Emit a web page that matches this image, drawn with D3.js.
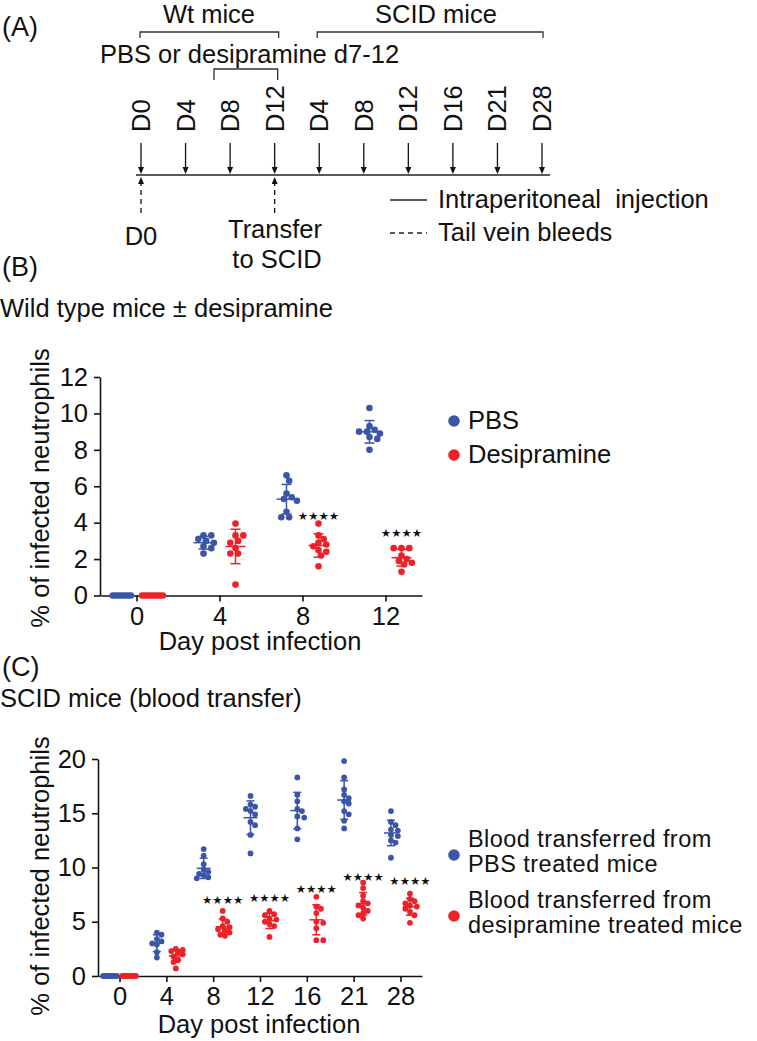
<!DOCTYPE html>
<html>
<head>
<meta charset="utf-8">
<script src="https://cdn.jsdelivr.net/npm/d3@7"></script>
<style>
  html, body { margin: 0; padding: 0; background: #fff; }
  svg { display: block; }
  text { font-family: "Liberation Sans", Arial, Helvetica, sans-serif; fill: #111; }
</style>
</head>
<body>
<svg id="chart" width="757" height="1041"></svg>
<script>
// ---------------- DATA ----------------
// Panel A timeline
const timelineLabels = ["D0", "D4", "D8", "D12", "D4", "D8", "D12", "D16", "D21", "D28"];
const bleedIndex = [0, 3];           // tail-vein bleeds at D0 and D12 (transfer)

// Panel B: wild type mice ± desipramine
const daysB = ["0", "4", "8", "12"];
const pbsB = [
  [0, 0, 0, 0, 0, 0, 0, 0],
  [3.3, 3.3, 3.1, 3.0, 2.9, 2.7, 2.6, 2.3],
  [6.6, 6.3, 5.6, 5.4, 5.3, 5.2, 4.6, 4.3, 4.3],
  [10.3, 9.3, 9.1, 9.0, 9.0, 8.9, 8.7, 8.6, 8.0]
];
const desB = [
  [0, 0, 0, 0, 0, 0, 0, 0, 0],
  [3.95, 3.3, 3.3, 3.0, 2.9, 2.6, 2.3, 2.3, 0.6],
  [3.95, 3.3, 3.1, 2.9, 2.8, 2.7, 2.5, 2.4, 2.2, 1.6],
  [2.6, 2.6, 2.6, 2.2, 2.0, 1.9, 1.8, 1.7, 1.3]
];
const sigB = [null, null, 4.4, 3.5];      // "****" marks (value level)
const yTicksB = [0, 2, 4, 6, 8, 10, 12];

// Panel C: SCID mice (blood transfer)
const daysC = ["0", "4", "8", "12", "16", "21", "28"];
const pbsC = [
  [0, 0, 0, 0, 0, 0, 0, 0],
  [4.0, 3.8, 3.4, 3.2, 3.0, 2.9, 2.2, 1.7],
  [11.7, 11.1, 10.3, 9.8, 9.6, 9.4, 9.3, 9.1, 9.0],
  [16.6, 15.8, 15.6, 15.4, 15.2, 14.9, 14.2, 13.9, 13.0, 11.3],
  [18.3, 16.7, 16.1, 15.4, 15.2, 14.7, 14.6, 13.6, 12.6],
  [19.8, 18.3, 17.2, 16.7, 16.4, 16.1, 15.9, 15.2, 14.9, 14.3, 13.6],
  [15.2, 14.2, 13.9, 13.5, 13.4, 13.0, 12.9, 12.5, 12.3, 10.9]
];
const desC = [
  [0, 0, 0, 0, 0, 0, 0, 0, 0],
  [2.5, 2.4, 2.3, 2.2, 2.0, 1.8, 1.5, 1.3, 0.7],
  [6.0, 5.3, 5.0, 4.6, 4.5, 4.3, 4.2, 4.0, 3.8, 3.7],
  [6.0, 5.7, 5.6, 5.3, 5.2, 5.0, 4.8, 4.6, 3.6],
  [7.3, 6.4, 6.2, 5.8, 5.0, 4.9, 4.4, 3.3, 3.3],
  [8.6, 8.1, 7.4, 6.9, 6.7, 6.5, 6.3, 6.0, 5.8, 5.6, 5.3],
  [7.6, 7.1, 6.9, 6.7, 6.5, 6.4, 6.2, 5.9, 5.6, 4.9]
];
const sigC = [null, null, 7.06, 7.3, 8.08, 9.2, 8.84];
const yTicksC = [0, 5, 10, 15, 20];

const BLUE = "#3b56a8";
const RED = "#ec2228";
const FS = 25.5;

// ---------------- DRAW ----------------
const svg = d3.select("#chart");

function txt(g, x, y, s, opts = {}) {
  const t = g.append("text").attr("x", x).attr("y", y).text(s)
    .style("font-size", (opts.size || FS) + "px");
  if (opts.anchor) t.attr("text-anchor", opts.anchor);
  return t;
}

// ===== Panel A =====
const A = svg.append("g");
txt(A, 2, 36, "(A)", { size: 27 });
txt(A, 209, 23, "Wt mice", { anchor: "middle" });
txt(A, 436, 23, "SCID mice", { anchor: "middle" });
txt(A, 100, 63, "PBS or desipramine d7-12");

const tlX = d3.scalePoint().domain(d3.range(timelineLabels.length)).range([141, 542]);
const lineY = 175;

function bracket(x1, x2, y, h) {
  A.append("path")
    .attr("d", `M${x1},${y + h}V${y}H${x2}V${y + h}`)
    .attr("fill", "none").attr("stroke", "#333").attr("stroke-width", 1.3);
}
bracket(tlX(0) - 1, tlX(3) + 4, 32, 6);
bracket(tlX(4) - 2, tlX(9) + 1, 32, 6);
bracket(214, tlX(3) + 3, 69, 11);

A.append("line").attr("x1", 136).attr("x2", 550).attr("y1", lineY).attr("y2", lineY)
  .attr("stroke", "#222").attr("stroke-width", 1.5);

timelineLabels.forEach((lab, i) => {
  const x = tlX(i);
  A.append("line").attr("x1", x).attr("x2", x).attr("y1", 143).attr("y2", lineY - 6)
    .attr("stroke", "#111").attr("stroke-width", 1.3);
  A.append("path").attr("d", `M${x - 3},${lineY - 8}L${x + 3},${lineY - 8}L${x},${lineY - 1}Z`)
    .attr("fill", "#111");
  A.append("text").attr("transform", `translate(${x + 9},132) rotate(-90)`)
    .style("font-size", FS + "px").text(lab);
});

bleedIndex.forEach(i => {
  const x = tlX(i);
  A.append("line").attr("x1", x).attr("x2", x).attr("y1", 213).attr("y2", lineY + 7)
    .attr("stroke", "#111").attr("stroke-width", 1.3).attr("stroke-dasharray", "5,4");
  A.append("path").attr("d", `M${x - 3},${lineY + 9}L${x + 3},${lineY + 9}L${x},${lineY + 2}Z`)
    .attr("fill", "#111");
});
txt(A, tlX(0), 245, "D0", { anchor: "middle" });
txt(A, 275, 238, "Transfer", { anchor: "middle" });
txt(A, 277, 268, "to SCID", { anchor: "middle" });

A.append("line").attr("x1", 390).attr("x2", 427).attr("y1", 200).attr("y2", 200)
  .attr("stroke", "#222").attr("stroke-width", 1.3);
txt(A, 438, 208, "Intraperitoneal  injection").style("white-space", "pre");
A.append("line").attr("x1", 390).attr("x2", 427).attr("y1", 233).attr("y2", 233)
  .attr("stroke", "#222").attr("stroke-width", 1.3).attr("stroke-dasharray", "5,4");
txt(A, 438, 241, "Tail vein bleeds");

// ===== scatter panel helper =====
function swarm(values, y, r, step, maxK) {
  const pts = values.map((v, i) => ({ v, py: y(v), dx: 0 }));
  const order = pts.slice().sort((a, b) => a.py - b.py);
  const placed = [];
  const cands = [0];
  for (let k = 1; k <= maxK; k++) { cands.push(k, -k); }
  const minD = 2 * r * 0.85;
  order.forEach(p => {
    let best = null, bestScore = -1;
    for (const k of cands) {
      const dx = k * step;
      let md = Infinity;
      placed.forEach(q => {
        const d = Math.hypot(q.dx - dx, q.py - p.py);
        if (d < md) md = d;
      });
      if (md >= minD) { best = dx; break; }
      if (md > bestScore) { bestScore = md; best = dx; }
    }
    p.dx = best;
    placed.push(p);
  });
  return pts;
}

function scatterPanel(cfg) {
  const g = svg.append("g");
  const x = d3.scalePoint().domain(cfg.days).range([cfg.x0, cfg.x1]).padding(cfg.pad);
  const y = d3.scaleLinear().domain([0, cfg.yMax]).range([cfg.yBottom, cfg.yTop]);

  const ax = g.append("g").attr("transform", `translate(0,${cfg.yBottom})`)
    .call(d3.axisBottom(x).tickSize(6).tickSizeOuter(0).tickPadding(5));
  const ay = g.append("g").attr("transform", `translate(${cfg.x0},0)`)
    .call(d3.axisLeft(y).tickValues(cfg.yTicks).tickSize(6).tickSizeOuter(0).tickPadding(6));
  [ax, ay].forEach(a => {
    a.select(".domain").attr("stroke", "#111").attr("stroke-width", 1.6);
    a.selectAll(".tick line").attr("stroke", "#111").attr("stroke-width", 1.6);
    a.selectAll(".tick text").style("font-size", FS + "px")
      .style("font-family", '"Liberation Sans", Arial, Helvetica, sans-serif').attr("fill", "#111");
  });

  txt(g, (cfg.x0 + cfg.x1) / 2 - 1, cfg.xLabelY, "Day post infection", { anchor: "middle" });
  g.append("text").attr("transform", `translate(49,${cfg.yLabelC}) rotate(-90)`)
    .attr("text-anchor", "middle").style("font-size", FS + "px")
    .text("% of infected neutrophils");

  const series = [
    { data: cfg.pbs, color: BLUE, off: -cfg.off },
    { data: cfg.des, color: RED, off: cfg.off }
  ];
  series.forEach(s => {
    s.data.forEach((vals, gi) => {
      const cx = x(cfg.days[gi]) + s.off;
      const pts = swarm(vals, y, cfg.r, cfg.step, cfg.maxK);
      g.append("g").selectAll("circle").data(pts).join("circle")
        .attr("cx", d => cx + d.dx).attr("cy", d => d.py).attr("r", cfg.r)
        .attr("fill", s.color);
      const m = d3.mean(vals), sd = d3.deviation(vals) || 0;
      const eg = g.append("g").attr("stroke", s.color).attr("stroke-width", 1.5).attr("fill", "none");
      eg.append("line").attr("x1", cx - cfg.meanW).attr("x2", cx + cfg.meanW)
        .attr("y1", y(m)).attr("y2", y(m));
      eg.append("line").attr("x1", cx).attr("x2", cx).attr("y1", y(m + sd)).attr("y2", y(m - sd));
      [m + sd, m - sd].forEach(v => {
        eg.append("line").attr("x1", cx - cfg.capW).attr("x2", cx + cfg.capW)
          .attr("y1", y(v)).attr("y2", y(v));
      });
    });
  });

  cfg.sig.forEach((v, gi) => {
    if (v == null) return;
    g.append("text").attr("x", x(cfg.days[gi]) + cfg.off).attr("y", y(v) + 5)
      .attr("text-anchor", "middle")
      .style("font-family", '"DejaVu Sans", sans-serif').style("font-size", "11.5px")
      .text("★★★★");
  });

  cfg.legend.forEach(L => {
    g.append("circle").attr("cx", 454).attr("cy", L.cy).attr("r", 5.8).attr("fill", L.color);
    L.lines.forEach((s, i) => {
      g.append("text").attr("x", 468).attr("y", L.y + i * cfg.legendGap)
        .style("font-size", cfg.legendFS + "px").style("letter-spacing", cfg.legendLS + "px")
        .text(s);
    });
  });
}

// ===== Panel B =====
txt(svg, 2, 276, "(B)", { size: 27 });
txt(svg, 0, 317, "Wild type mice \u00b1 desipramine");
scatterPanel({
  days: daysB, pbs: pbsB, des: desB, sig: sigB, yTicks: yTicksB,
  x0: 100, x1: 422, pad: 0.44, yMax: 12, yBottom: 595.5, yTop: 377,
  off: 16, r: 3.3, step: 2.6, maxK: 4, meanW: 10, capW: 5,
  xLabelY: 650, yLabelC: 488, legendFS: FS, legendLS: 0, legendGap: 0,
  legend: [
    { color: BLUE, cy: 421, y: 429, lines: ["PBS"] },
    { color: RED, cy: 455, y: 463, lines: ["Desipramine"] }
  ]
});

// ===== Panel C =====
txt(svg, 2, 676, "(C)", { size: 27 });
txt(svg, 0, 707, "SCID mice (blood transfer)");
scatterPanel({
  days: daysC, pbs: pbsC, des: desC, sig: sigC, yTicks: yTicksC,
  x0: 98, x1: 422, pad: 0.46, yMax: 20, yBottom: 976, yTop: 759,
  off: 9.5, r: 2.9, step: 2.3, maxK: 3, meanW: 7, capW: 4,
  xLabelY: 1033, yLabelC: 876, legendFS: 23.5, legendLS: 0.45, legendGap: 25,
  legend: [
    { color: BLUE, cy: 855, y: 847, lines: ["Blood transferred from", "PBS treated mice"] },
    { color: RED, cy: 916, y: 908, lines: ["Blood transferred from", "desipramine treated mice"] }
  ]
});
</script>
</body>
</html>
